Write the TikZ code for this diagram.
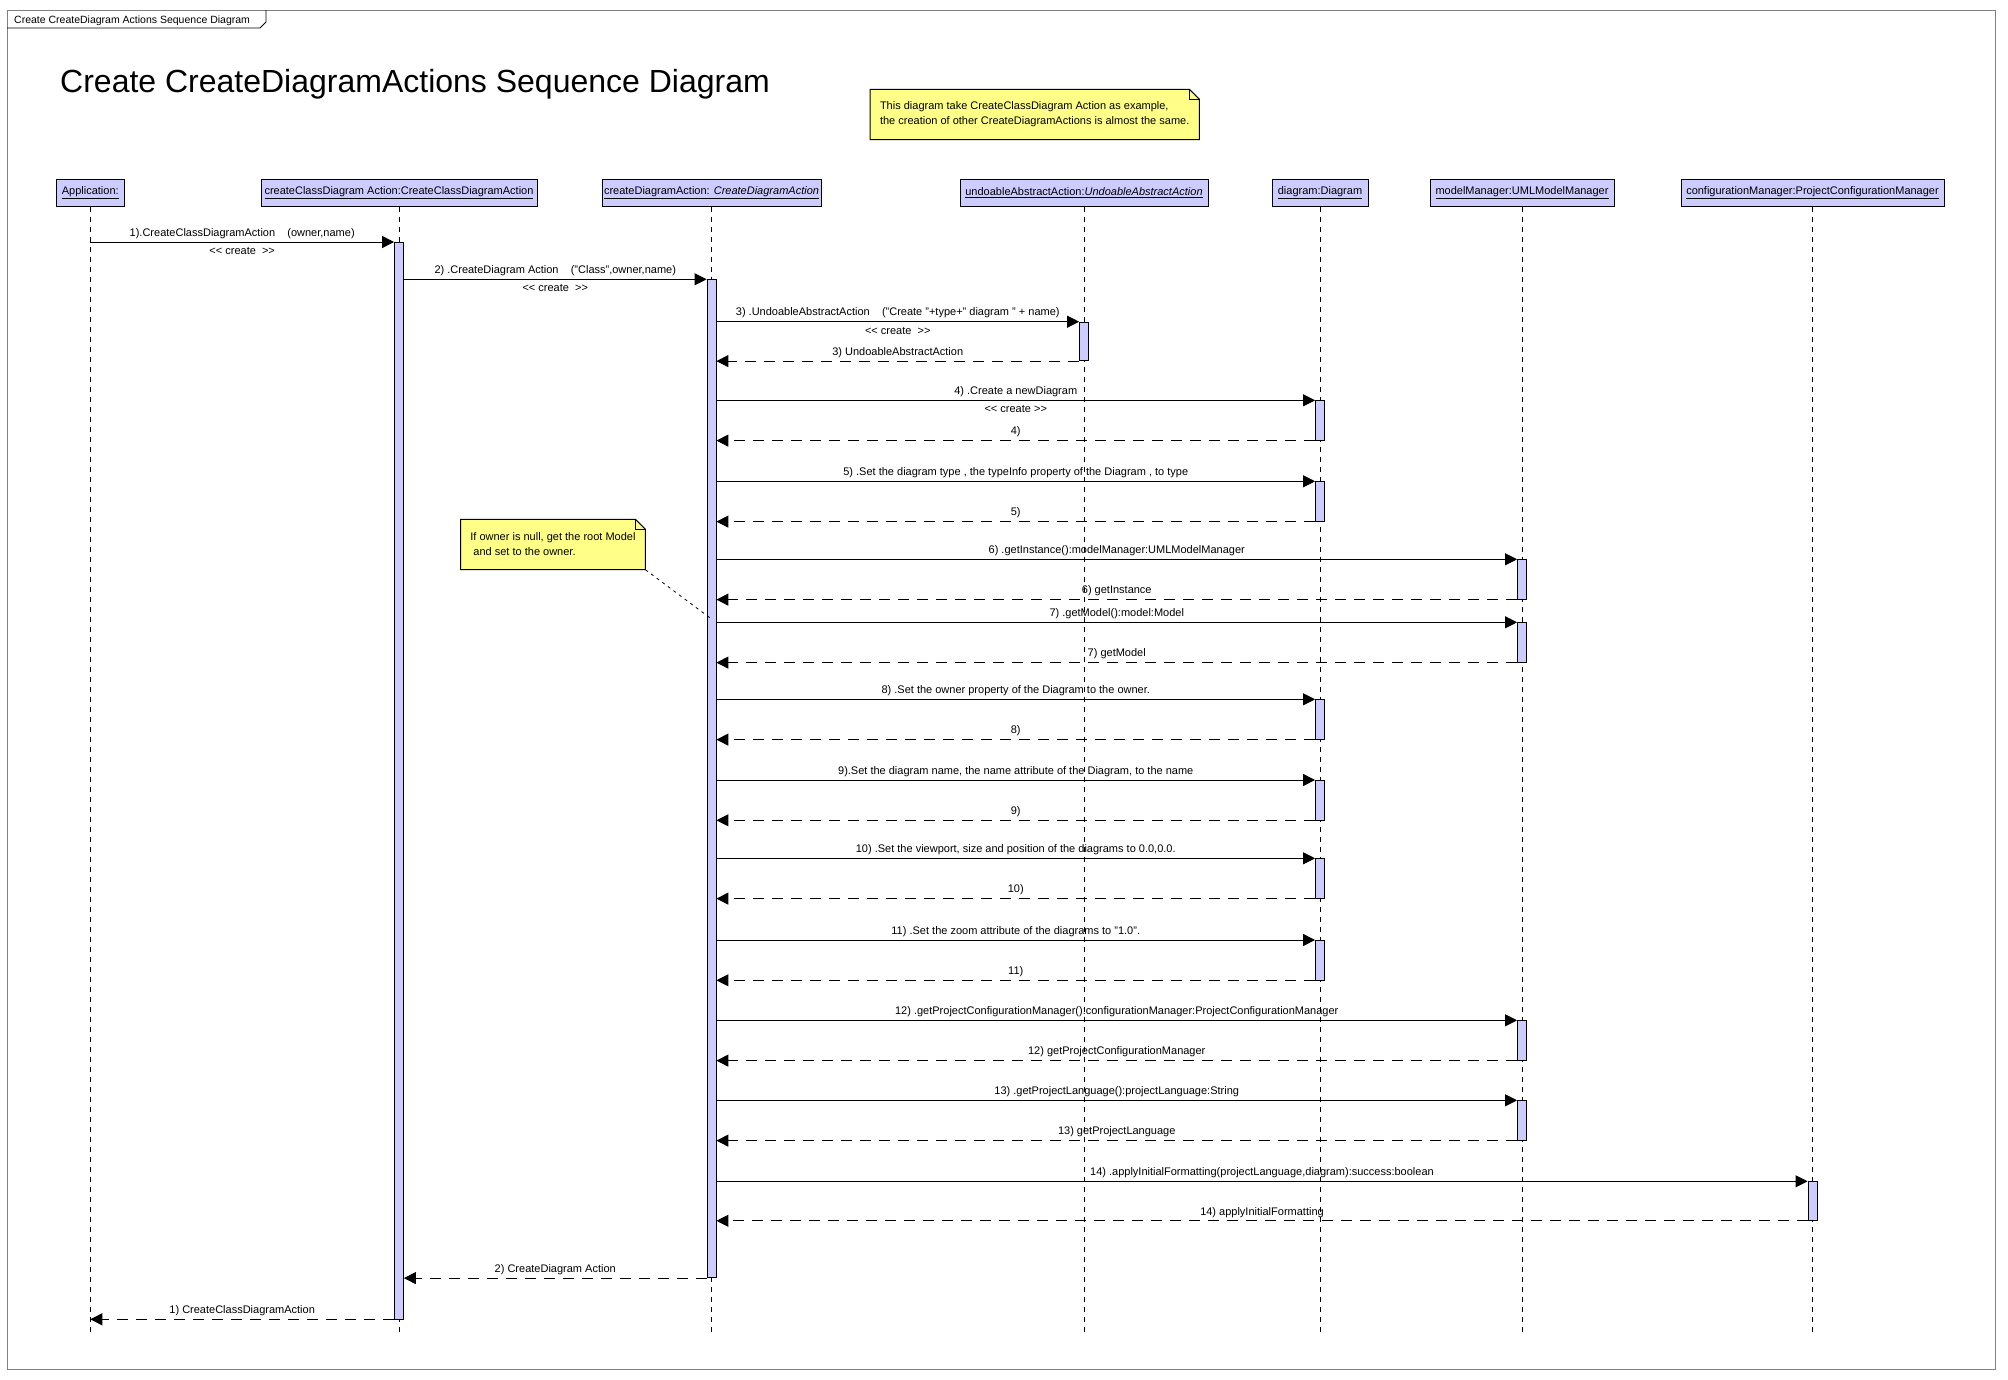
\documentclass[tikz,border=0pt]{standalone}
\usepackage{fontspec}
\setmainfont{Liberation Sans}
\usetikzlibrary{
        arrows.meta,
        backgrounds,
        positioning
    }
\definecolor{headfill}{RGB}{204,204,255}
\definecolor{notefill}{RGB}{255,255,136}
\definecolor{framegray}{RGB}{128,128,128}
\tikzset{>={Triangle[length=12pt,width=12pt]}}
\tikzset{lifehead/.style={draw,fill=headfill,line width=1pt,minimum height=27pt,inner sep=2pt}}
\tikzset{lifeline/.style={line width=0.8pt,dash pattern=on 5pt off 5pt}}
\tikzset{bar/.style={draw,fill=headfill,line width=0.8pt,anchor=north,minimum width=9pt,minimum height=39.5pt,inner sep=0pt}}
\tikzset{call/.style={->,line width=1pt}}
\tikzset{reply/.style={->,line width=1pt,dash pattern=on 11pt off 8pt}}
\tikzset{msg above/.style={above=1pt,inner sep=2pt}}
\tikzset{msg below/.style={below=3pt,inner sep=2pt}}
\tikzset{note/.style={align=left,anchor=north west,minimum height=50pt,inner sep=0pt,font=\fontsize{11}{15}\selectfont}}
\tikzset{notebox/.style={draw,fill=notefill,line width=1pt}}
\tikzset{notelink/.style={line width=0.8pt,dash pattern=on 3pt off 4pt}}

\begin{document}
\begin{tikzpicture}[x=1pt,y=-1pt,font=\fontsize{11}{13}\selectfont]
    \useasboundingbox (0,0) rectangle (2008,1379);
    % frame and title
    \draw[framegray,line width=1pt] (7,10) rectangle (1995,1369);
    \draw[line width=0.8pt] (7,28) -- (260,28) -- (266,22) -- (266,10);
    \node[anchor=base west,inner sep=0pt,font=\fontsize{10.5}{12}\selectfont] (tablabel) at (14,23.5) {Create CreateDiagram Actions Sequence Diagram};
    \node[anchor=base west,inner sep=0pt,font=\fontsize{32}{38}\selectfont] (title) at (60,92) {Create CreateDiagramActions Sequence Diagram};

    % lifeline heads
    \node[lifehead,minimum width=68pt] (app) at (90.3,192.5) {\underline{Application:}};
    \node[lifehead,minimum width=276pt] (ccda) [right=135.7pt of app] {\underline{createClassDiagram Action:CreateClassDiagramAction}};
    \node[lifehead,minimum width=219pt] (cda) [right=64pt of ccda] {\underline{createDiagramAction: \textit{CreateDiagramAction}}};
    \node[lifehead,minimum width=248pt] (uaa) [right=138pt of cda] {\underline{undoableAbstractAction:\textit{UndoableAbstractAction}}};
    \node[lifehead,minimum width=96pt] (dgm) [right=63pt of uaa] {\underline{diagram:Diagram}};
    \node[lifehead,minimum width=184pt] (mm) [right=61pt of dgm] {\underline{modelManager:UMLModelManager}};
    \node[lifehead,minimum width=263pt] (cm) [right=66pt of mm] {\underline{configurationManager:ProjectConfigurationManager}};

    \coordinate (bottom) at (0,1333);
    \path[lifeline]
        (app)  edge (app |- bottom)
        (ccda) edge (ccda |- bottom)
        (cda)  edge (cda |- bottom)
        (uaa)  edge (uaa |- bottom)
        (dgm)  edge (dgm |- bottom)
        (mm)   edge (mm |- bottom)
        (cm)   edge (cm |- bottom)
    ;

    % activations
    \node[bar,minimum height=1076.5pt] (ccdabar) at (ccda |- 0,242) {};
    \node[bar,minimum height=998pt] (cdabar) at (cda |- 0,279.3) {};
    \node[bar,minimum height=38.6pt] (uaabar3) at (uaa |- 0,321.7) {};
    \node[bar] (dgmbar4) at (dgm |- 0,400.3) {};
    \node[bar] (dgmbar5) at (dgm |- 0,481.3) {};
    \node[bar] (mmbar6) at (mm |- 0,559.3) {};
    \node[bar] (mmbar7) at (mm |- 0,622.3) {};
    \node[bar] (dgmbar8) at (dgm |- 0,699.3) {};
    \node[bar] (dgmbar9) at (dgm |- 0,780) {};
    \node[bar] (dgmbar10) at (dgm |- 0,858.3) {};
    \node[bar] (dgmbar11) at (dgm |- 0,940) {};
    \node[bar] (mmbar12) at (mm |- 0,1020.3) {};
    \node[bar] (mmbar13) at (mm |- 0,1100.3) {};
    \node[bar,minimum height=38.7pt] (cmbar14) at (cm |- 0,1181.3) {};

    % calls
    \path[call]
        (app |- ccdabar.north) edge node[msg above] {1).CreateClassDiagramAction\ \ \ \ (owner,name)} node[msg below] {{<}{<} create\ \ {>}{>}} (ccdabar.north west)
        (ccdabar.east |- cdabar.north) edge node[msg above] {2) .CreateDiagram Action\ \ \ \ ("Class",owner,name)} node[msg below] {{<}{<} create\ \ {>}{>}} (cdabar.north west)
        (cdabar.east |- uaabar3.north) edge node[msg above] {3) .UndoableAbstractAction\ \ \ \ ("Create "+type+" diagram " + name)} node[msg below] {{<}{<} create\ \ {>}{>}} (uaabar3.north west)
        (cdabar.east |- dgmbar4.north) edge node[msg above] {4) .Create a newDiagram} node[msg below] {{<}{<} create {>}{>}} (dgmbar4.north west)
        (cdabar.east |- dgmbar5.north) edge node[msg above] {5) .Set the diagram type , the typeInfo property of the Diagram , to type} (dgmbar5.north west)
        (cdabar.east |- mmbar6.north) edge node[msg above] {6) .getInstance():modelManager:UMLModelManager} (mmbar6.north west)
        (cdabar.east |- mmbar7.north) edge node[msg above] {7) .getModel():model:Model} (mmbar7.north west)
        (cdabar.east |- dgmbar8.north) edge node[msg above] {8) .Set the owner property of the Diagram to the owner.} (dgmbar8.north west)
        (cdabar.east |- dgmbar9.north) edge node[msg above] {9).Set the diagram name, the name attribute of the Diagram, to the name} (dgmbar9.north west)
        (cdabar.east |- dgmbar10.north) edge node[msg above] {10) .Set the viewport, size and position of the diagrams to 0.0,0.0.} (dgmbar10.north west)
        (cdabar.east |- dgmbar11.north) edge node[msg above] {11) .Set the zoom attribute of the diagrams to "1.0".} (dgmbar11.north west)
        (cdabar.east |- mmbar12.north) edge node[msg above] {12) .getProjectConfigurationManager():configurationManager:ProjectConfigurationManager} (mmbar12.north west)
        (cdabar.east |- mmbar13.north) edge node[msg above] {13) .getProjectLanguage():projectLanguage:String} (mmbar13.north west)
        (cdabar.east |- cmbar14.north) edge node[msg above] {14) .applyInitialFormatting(projectLanguage,diagram):success:boolean} (cmbar14.north west)
    ;

    % replies
    \path[reply]
        (uaabar3.south west) edge node[msg above] {3) UndoableAbstractAction} (cdabar.east |- uaabar3.south)
        (dgmbar4.south west) edge node[msg above] {4)} (cdabar.east |- dgmbar4.south)
        (dgmbar5.south west) edge node[msg above] {5)} (cdabar.east |- dgmbar5.south)
        (mmbar6.south west) edge node[msg above] {6) getInstance} (cdabar.east |- mmbar6.south)
        (mmbar7.south west) edge node[msg above] {7) getModel} (cdabar.east |- mmbar7.south)
        (dgmbar8.south west) edge node[msg above] {8)} (cdabar.east |- dgmbar8.south)
        (dgmbar9.south west) edge node[msg above] {9)} (cdabar.east |- dgmbar9.south)
        (dgmbar10.south west) edge node[msg above] {10)} (cdabar.east |- dgmbar10.south)
        (dgmbar11.south west) edge node[msg above] {11)} (cdabar.east |- dgmbar11.south)
        (mmbar12.south west) edge node[msg above] {12) getProjectConfigurationManager} (cdabar.east |- mmbar12.south)
        (mmbar13.south west) edge node[msg above] {13) getProjectLanguage} (cdabar.east |- mmbar13.south)
        (cmbar14.south west) edge node[msg above] {14) applyInitialFormatting} (cdabar.east |- cmbar14.south)
        (cdabar.south west) edge node[msg above] {2) CreateDiagram Action} (ccdabar.east |- cdabar.south)
        (ccdabar.south west) edge node[msg above] {1) CreateClassDiagramAction} (app |- ccdabar.south)
    ;

    % notes
    \node[note,minimum width=329pt] (note1) at (870,89.3) {This diagram take CreateClassDiagram Action as example,\\the creation of other CreateDiagramActions is almost the same.};
    \node[note,minimum width=184.5pt] (note2) at (460.5,519.3) {If owner is null, get the root Model\\\ and set to the owner.};
    \begin{scope}[on background layer]
        \draw[notebox] (note1.north west) -- ([xshift=-10pt]note1.north east) -- ([yshift=-10pt]note1.north east) -- (note1.south east) -- (note1.south west) -- cycle;
        \draw[line width=0.8pt] ([xshift=-10pt]note1.north east) |- ([yshift=-10pt]note1.north east);
        \draw[notebox] (note2.north west) -- ([xshift=-10pt]note2.north east) -- ([yshift=-10pt]note2.north east) -- (note2.south east) -- (note2.south west) -- cycle;
        \draw[line width=0.8pt] ([xshift=-10pt]note2.north east) |- ([yshift=-10pt]note2.north east);
    \end{scope}
    \coordinate (link7) at (cdabar.center |- 0,619);
    \draw[notelink] (note2.south east) -- (link7);
\end{tikzpicture}
\end{document}
